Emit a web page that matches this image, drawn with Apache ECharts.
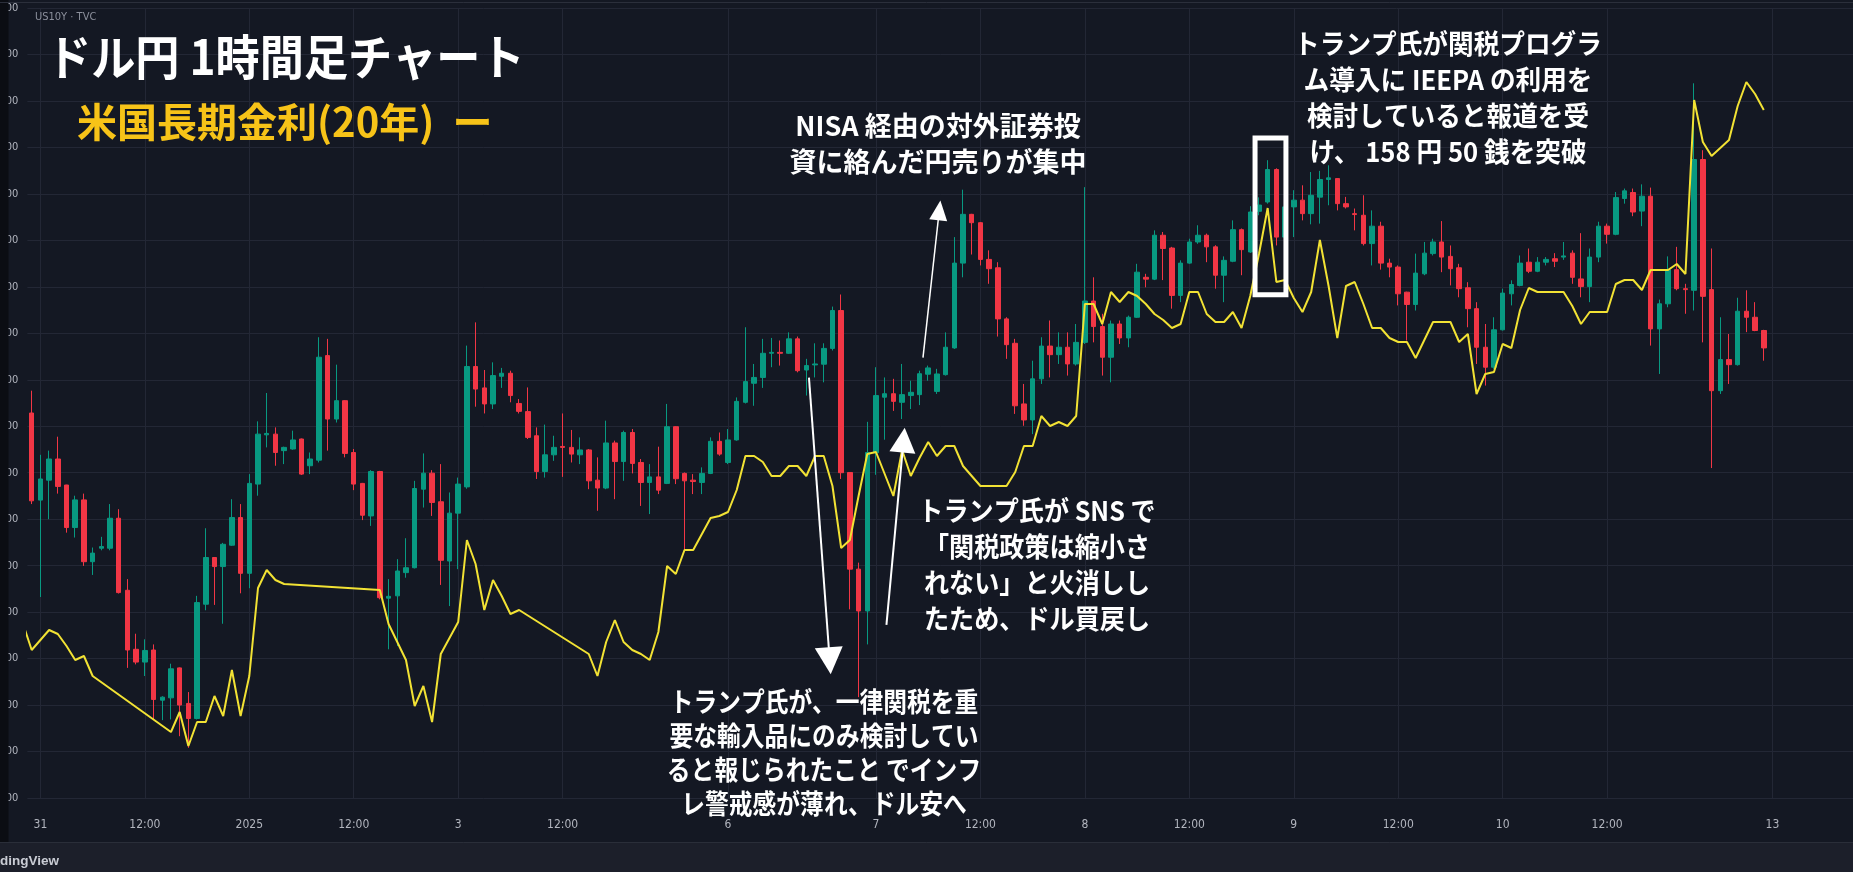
<!DOCTYPE html>
<html><head><meta charset="utf-8">
<script src="https://cdn.jsdelivr.net/npm/echarts@6/dist/echarts.min.js"></script>
<style>html,body{margin:0;padding:0;background:#141823;overflow:hidden}#c{width:1853px;height:872px}</style>
</head><body><div id="c"></div>
<script>
// ---- time axis (bar index -> label) ----
const timeLabelIndex = [1,13,25,37,49,61,80,97,109,121,133,145,157,169,181,200];
const timeLabels = ['31','12:00','2025','12:00','3','12:00','6','7','12:00','8','12:00','9','12:00','10','12:00','13'];

// ---- price axis ----
const priceMin = 155.8, priceMax = 159.2, priceStep = 0.2;
const yieldMin = 4.705, yieldMax = 5.10;

// ---- USDJPY 1h candles ----
const openPrices = [157.457,157.082,157.168,157.259,157.147,156.964,157.083,156.817,156.875,156.875,
157.004,156.694,156.440,156.385,156.437,156.221,156.231,156.360,156.207,156.142,
156.634,156.835,156.796,156.888,157.007,156.767,157.151,157.363,157.366,157.295,
157.302,157.345,157.230,157.254,157.704,157.431,157.510,157.287,157.154,157.014,
157.205,156.660,156.670,156.770,156.791,157.129,157.198,157.075,156.820,157.026,
157.139,157.657,157.565,157.496,157.615,157.628,157.498,157.463,157.359,157.205,
157.277,157.313,157.309,157.277,157.298,157.168,157.134,157.328,157.248,157.373,
157.244,157.158,157.182,157.154,157.398,157.197,157.168,157.158,157.197,157.335,
157.244,157.341,157.503,157.585,157.610,157.714,157.718,157.714,157.776,157.642,
157.664,157.667,157.735,157.898,157.201,156.785,156.605,157.286,157.525,157.540,
157.503,157.532,157.536,157.624,157.550,157.622,157.737,158.102,158.312,158.276,
158.118,158.082,157.862,157.757,157.496,157.427,157.604,157.745,157.708,157.740,
157.668,157.761,157.939,157.829,157.697,157.840,157.780,157.869,158.041,158.033,
158.222,158.167,157.963,158.102,158.193,158.222,158.172,158.050,158.110,158.246,
158.150,158.325,158.365,158.505,158.214,158.344,158.373,158.315,158.386,158.462,
158.466,158.358,158.315,158.308,158.186,158.261,158.102,158.085,157.977,157.924,
158.056,158.143,158.193,158.131,158.082,157.996,157.906,157.740,157.654,157.815,
157.970,158.006,158.106,158.067,158.106,158.121,158.128,158.145,158.034,158.001,
158.128,158.261,158.226,158.380,158.406,158.326,158.390,157.819,157.927,158.074,
157.992,157.985,158.548,157.988,157.553,157.687,157.665,157.895,157.869,157.812];
const closePrices = [157.079,157.173,157.259,157.141,156.964,157.083,156.817,156.854,156.882,157.004,
156.684,156.437,156.385,156.435,156.224,156.234,156.356,156.200,156.142,156.641,
156.835,156.796,156.892,157.007,156.767,157.154,157.366,157.369,157.287,157.309,
157.341,157.194,157.259,157.697,157.431,157.510,157.283,157.151,157.017,157.205,
156.662,156.668,156.777,156.791,157.132,157.198,157.072,156.823,157.026,157.151,
157.657,157.560,157.496,157.618,157.628,157.532,157.464,157.352,157.205,157.277,
157.309,157.309,157.280,157.298,157.165,157.134,157.328,157.248,157.373,157.240,
157.158,157.182,157.125,157.398,157.174,157.165,157.162,157.197,157.335,157.280,
157.341,157.507,157.592,157.610,157.714,157.718,157.714,157.776,157.639,157.661,
157.668,157.735,157.898,157.200,156.785,156.605,157.287,157.532,157.540,157.507,
157.536,157.546,157.626,157.651,157.625,157.740,158.102,158.312,158.276,158.118,
158.078,157.862,157.751,157.488,157.427,157.604,157.745,157.708,157.740,157.668,
157.761,157.939,157.829,157.697,157.840,157.780,157.869,158.063,158.033,158.222,
158.165,157.963,158.102,158.193,158.222,158.172,158.050,158.114,158.246,158.160,
158.322,158.352,158.505,158.214,158.344,158.373,158.315,158.394,158.462,158.469,
158.358,158.344,158.311,158.186,158.261,158.102,158.085,157.970,157.924,158.059,
158.145,158.193,158.128,158.078,157.992,157.906,157.740,157.654,157.815,157.973,
158.010,158.102,158.067,158.106,158.118,158.110,158.133,158.041,158.001,158.128,
158.261,158.226,158.384,158.413,158.322,158.390,157.819,157.927,158.074,157.992,
157.988,158.548,157.959,157.553,157.687,157.665,157.895,157.869,157.812,157.737];
const lowPrices = [157.065,156.665,157.000,157.110,156.942,156.921,156.799,156.760,156.866,156.866,
156.680,156.360,156.375,156.325,156.138,156.135,156.138,156.066,156.016,156.138,
156.608,156.631,156.550,156.885,156.681,156.703,157.101,157.309,157.230,157.237,
157.299,157.190,157.194,157.244,157.295,157.416,157.266,157.125,156.996,156.971,
156.655,156.440,156.454,156.748,156.788,157.050,157.014,156.717,156.626,156.785,
157.131,157.484,157.455,157.474,157.565,157.503,157.455,157.345,157.173,157.179,
157.251,157.182,157.244,157.237,157.129,157.036,157.129,157.086,157.165,157.197,
157.057,157.022,157.108,157.151,157.151,156.866,157.108,157.108,157.194,157.273,
157.237,157.338,157.498,157.488,157.565,157.654,157.661,157.711,157.632,157.532,
157.610,157.589,157.726,157.173,156.612,156.234,156.461,157.191,157.342,157.466,
157.431,157.474,157.491,157.596,157.539,157.618,157.733,158.041,158.139,158.092,
158.013,157.786,157.690,157.453,157.402,157.366,157.582,157.610,157.668,157.618,
157.661,157.754,157.761,157.618,157.589,157.754,157.740,157.866,157.998,158.029,
158.029,157.906,157.934,158.099,158.185,158.106,157.992,157.934,158.106,158.050,
158.146,158.308,158.358,158.178,158.200,158.214,158.286,158.269,158.272,158.351,
158.329,158.337,158.243,158.178,158.092,158.074,158.041,157.920,157.769,157.898,
158.050,158.135,158.063,158.006,157.955,157.826,157.668,157.575,157.647,157.812,
157.920,158.002,158.059,158.063,158.092,158.085,158.116,158.013,157.955,157.934,
158.106,158.186,158.222,158.358,158.304,158.261,157.747,157.625,157.912,157.985,
157.884,157.898,157.761,157.220,157.539,157.582,157.661,157.805,157.809,157.682];
const highPrices = [157.553,157.277,157.295,157.355,157.148,157.101,157.110,156.878,156.924,157.065,
157.043,156.742,156.507,156.483,156.461,156.238,156.378,156.362,156.256,156.670,
156.961,156.837,156.898,157.086,157.065,157.194,157.421,157.543,157.395,157.312,
157.381,157.347,157.287,157.783,157.776,157.665,157.512,157.302,157.156,157.211,
157.208,156.742,156.828,156.918,157.165,157.283,157.211,157.237,157.115,157.179,
157.747,157.847,157.642,157.675,157.651,157.639,157.517,157.567,157.395,157.407,
157.359,157.455,157.384,157.352,157.302,157.266,157.424,157.338,157.381,157.388,
157.259,157.237,157.312,157.496,157.400,157.201,157.194,157.223,157.352,157.373,
157.388,157.524,157.826,157.668,157.776,157.780,157.769,157.804,157.786,157.690,
157.757,157.757,157.915,157.967,157.203,156.813,157.419,157.654,157.610,157.604,
157.668,157.596,157.639,157.661,157.647,157.804,158.214,158.418,158.314,158.279,
158.157,158.106,157.869,157.776,157.582,157.682,157.783,157.855,157.804,157.804,
157.840,158.429,158.041,157.884,157.855,157.855,157.876,158.099,158.056,158.243,
158.236,158.172,158.114,158.207,158.265,158.229,158.179,158.131,158.286,158.251,
158.347,158.385,158.545,158.510,158.360,158.416,158.437,158.494,158.499,158.523,
158.468,158.387,158.337,158.394,158.329,158.280,158.121,158.092,157.979,158.143,
158.193,158.207,158.283,158.178,158.099,158.020,157.934,157.840,157.869,157.992,
158.028,158.135,158.165,158.128,158.128,158.145,158.193,158.157,158.231,158.165,
158.280,158.272,158.408,158.423,158.423,158.441,158.427,157.945,158.131,158.172,
158.013,158.876,158.588,158.165,157.869,157.797,157.953,157.985,157.934,157.815];

// ---- US 20Y yield (same bar index, starting one bar before the first candle) ----
const yieldStartIndex = -1;
const yieldValues = [4.792,
4.779,4.784,4.789,4.787,4.781,4.774,4.776,4.766,
null,null,null,null,null,null,null,null,
4.738,4.748,4.731,4.743,4.743,4.756,4.746,4.769,4.746,4.766,4.810,4.819,4.814,4.812,
null,null,null,null,null,null,null,null,null,null,
4.809,4.792,4.783,4.774,4.751,4.761,4.743,4.777,4.785,4.793,4.834,4.822,4.799,4.814,4.806,4.797,4.799,
null,null,null,null,null,null,null,
4.777,4.766,4.783,4.794,4.783,4.779,4.777,4.774,4.788,4.821,
4.817,4.829,4.829,4.837,4.845,4.846,4.848,4.859,4.876,4.876,
4.873,4.866,4.866,4.871,4.871,4.866,4.876,4.876,4.861,4.830,
4.834,4.856,4.877,4.878,4.867,4.856,4.879,4.866,4.875,4.883,
4.876,4.881,4.881,4.871,4.866,4.861,4.861,4.861,4.861,4.868,
4.881,4.881,4.896,4.891,4.893,4.891,4.896,4.952,4.952,4.942,
4.958,4.953,4.958,4.956,4.952,4.947,4.944,4.940,4.942,4.958,
4.958,4.947,4.943,4.943,4.948,4.940,4.956,4.977,5.000,4.963,
4.964,4.955,4.948,4.958,4.984,4.961,4.935,4.961,4.963,4.952,
4.940,4.940,4.935,4.933,4.933,4.925,4.934,4.943,4.943,4.943,
4.933,4.937,4.907,4.917,4.918,4.932,4.930,4.949,4.960,4.958,
4.958,4.958,4.958,4.951,4.942,4.948,4.948,4.948,4.962,4.964,
4.964,4.959,4.969,4.969,4.969,4.972,4.967,5.054,5.033,5.026,
5.030,5.034,5.051,5.063,5.057,5.049];

// ---- annotations (anchored in data coordinates: [bar index, price]) ----
const arrowDefs = [
  {from:[89.3,157.609], to:[91.8,156.333], head:27, width:28, line:2},
  {from:[98.2,156.545], to:[100.3,157.394], head:25, width:26, line:2},
  {from:[102.4,157.695], to:[104.4,158.372], head:20, width:18, line:1.5}
];
const boxDef = {x0:140.55, x1:144.1, top:158.640, bottom:157.966};

const noteBlocks = [
  {x:938, ys:[126,162], size:27, sx:1.0, lines:['NISA 経由の対外証券投','資に絡んだ円売りが集中']},
  {x:1448, ys:[44,80,116,152], size:27, sx:0.95, lines:['トランプ氏が関税プログラ','ム導入に IEEPA の利用を','検討していると報道を受','け、 158 円 50 銭を突破']},
  {x:1037, ys:[511,547,583,619], size:27, sx:0.93, lines:['トランプ氏が SNS で','「関税政策は縮小さ','れない」と火消しし','たため、ドル買戻し']},
  {x:824, ys:[702,736,770,804], size:27, sx:0.88, lines:['トランプ氏が、一律関税を重','要な輸入品にのみ検討してい','ると報じられたこと でインフ','レ警戒感が薄れ、ドル安へ']}
];

const BG = '#141823', GRID = '#232735', TXT = '#b2b5be';
const UP = '#089981', DOWN = '#f23645', YEL = '#f2e234';
const NARROW = '"Liberation Sans Narrow","DejaVu Sans Condensed","Roboto",sans-serif';
const JP = '"Noto Sans CJK JP","Noto Sans CJK SC",sans-serif';

const candleData = openPrices.map((o,i)=>[i, o, closePrices[i], lowPrices[i], highPrices[i]]);
const yieldData = yieldValues.map((v,i)=>[i + yieldStartIndex, v == null ? '-' : v]);

const chart = echarts.init(document.getElementById('c'), null, {renderer:'canvas', width:1853, height:872});
chart.setOption({
  backgroundColor: BG,
  animation: false,
  grid: {left: 27.35, right: 0, top: 8, bottom: 74, outerBoundsMode: 'none', containLabel: false},
  xAxis: {
    type: 'value', min: -0.5, max: 209.25,
    axisLine: {show: false},
    axisTick: {show: false, customValues: timeLabelIndex},
    splitLine: {show: true, lineStyle: {color: GRID, width: 1}},
    axisLabel: {
      customValues: timeLabelIndex, margin: 21, color: TXT, fontSize: 12, fontFamily: NARROW,
      formatter: v => { const k = timeLabelIndex.indexOf(Math.round(v)); return k >= 0 ? timeLabels[k] : ''; }
    }
  },
  yAxis: [{
    type: 'value', position: 'left', min: priceMin, max: priceMax, interval: priceStep,
    axisLine: {show: false}, axisTick: {show: false},
    splitLine: {show: true, lineStyle: {color: GRID, width: 1}},
    axisLabel: {margin: 9, color: TXT, fontSize: 11, fontFamily: NARROW, formatter: v => v.toFixed(3)}
  }, {
    type: 'value', show: false, min: yieldMin, max: yieldMax, splitLine: {show: false}
  }],
  series: [{
    type: 'candlestick', name: 'USDJPY', data: candleData, barWidth: 5,
    itemStyle: {color: UP, color0: DOWN, borderColor: UP, borderColor0: DOWN, borderWidth: 1},
    z: 2
  }, {
    type: 'line', name: 'US20Y', yAxisIndex: 1, data: yieldData, connectNulls: true,
    showSymbol: false, symbol: 'none', lineStyle: {color: YEL, width: 2}, z: 3
  }]
});

function px(pt){ return chart.convertToPixel({xAxisIndex:0, yAxisIndex:0}, pt); }
function txt(text, x, y, font, fill, align, sx){
  return {type:'text', x:x, y:y, scaleX: sx || 1, silent:true, z:60,
    style:{text:text, font:font, fill:fill, textAlign:align, align:align, textVerticalAlign:'middle', verticalAlign:'middle'}};
}
const g = [];
g.push({type:'rect', shape:{x:0,y:0,width:8.5,height:842}, style:{fill:'#0b0d13'}, z:40, silent:true});
g.push({type:'line', shape:{x1:0,y1:2.5,x2:1853,y2:2.5}, style:{stroke:'#2b2f3b', lineWidth:1}, z:40, silent:true});
g.push({type:'rect', shape:{x:0,y:842,width:1853,height:30}, style:{fill:'#1c1f2a'}, z:40, silent:true});
g.push({type:'line', shape:{x1:0,y1:842.5,x2:1853,y2:842.5}, style:{stroke:'#2a2e39', lineWidth:1}, z:41, silent:true});
g.push(txt('TradingView', 59, 861, 'bold 13.5px "Liberation Sans",sans-serif', '#c9ccd4', 'right'));
g.push(txt('US10Y · TVC', 35, 17, '11px ' + NARROW, '#8c909c', 'left'));
g.push(txt('ドル円 1時間足チャート', 47, 57, 'bold 48px ' + JP, '#ffffff', 'left', 0.92));
g.push(txt('米国長期金利(20年)  ー', 77, 122, 'bold 40px ' + JP, '#f7c318', 'left', 1));

arrowDefs.forEach(a => {
  const p0 = px(a.from), p1 = px(a.to);
  const dx = p1[0]-p0[0], dy = p1[1]-p0[1], L = Math.hypot(dx, dy);
  const ux = dx/L, uy = dy/L, nx = -uy, ny = ux;
  const bx = p1[0]-ux*a.head, by = p1[1]-uy*a.head;
  g.push({type:'line', shape:{x1:p0[0],y1:p0[1],x2:bx+ux*3,y2:by+uy*3}, style:{stroke:'#ffffff', lineWidth:a.line}, z:55, silent:true});
  g.push({type:'polygon', shape:{points:[[p1[0],p1[1]],[bx+nx*a.width/2,by+ny*a.width/2],[bx-nx*a.width/2,by-ny*a.width/2]]}, style:{fill:'#ffffff'}, z:55, silent:true});
});
const b0 = px([boxDef.x0, boxDef.top]), b1 = px([boxDef.x1, boxDef.bottom]);
g.push({type:'rect', shape:{x:b0[0], y:b0[1], width:b1[0]-b0[0], height:b1[1]-b0[1]}, style:{fill:'none', stroke:'#ffffff', lineWidth:5}, z:55, silent:true});

noteBlocks.forEach(b => {
  b.lines.forEach((t, k) => g.push(txt(t, b.x, b.ys[k], 'bold ' + b.size + 'px ' + JP, '#ffffff', 'center', b.sx)));
});
chart.setOption({graphic: g});
</script></body></html>
